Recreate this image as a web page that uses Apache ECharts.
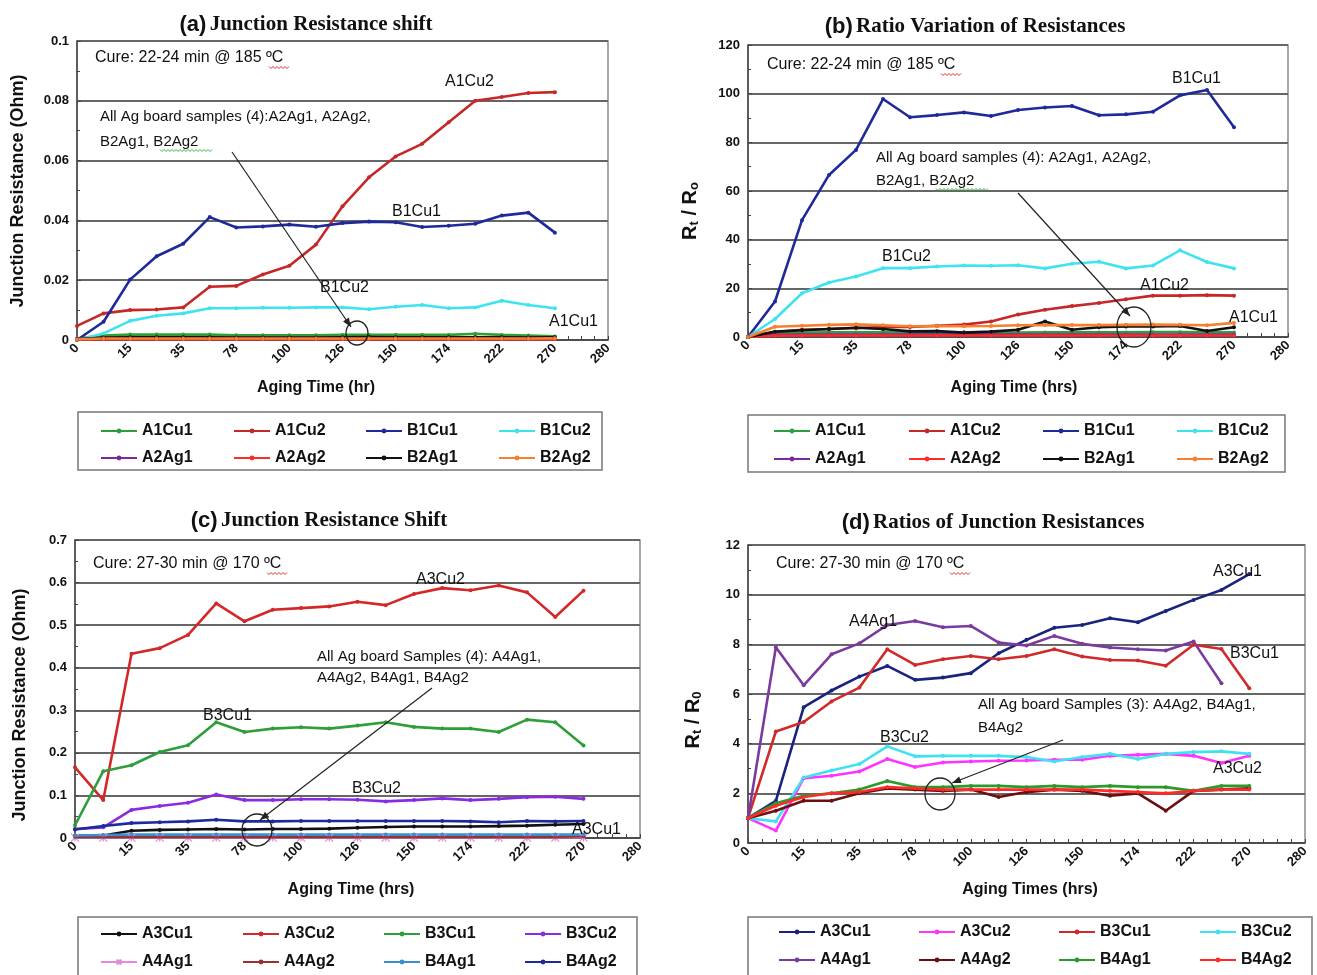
<!DOCTYPE html>
<html><head><meta charset="utf-8">
<script src="https://cdn.jsdelivr.net/npm/echarts@6/dist/echarts.min.js"></script>
<style>html,body{margin:0;padding:0;background:#fff}#c{width:1317px;height:975px}</style>
</head><body><div id="c"></div>
<script>
// ---------- DATA ----------
const categories = ["0","7","15","25","35","56","78","90","100","114","126","138","150","162","174","198","222","246","270","275","280"];
const xTickLabels = ["0","15","35","78","100","126","150","174","222","270","280"];

// (a) Junction resistance shift, Ohm
const a_A1Cu1 = [0.0005,0.0015,0.0018,0.0018,0.0018,0.0018,0.0016,0.0016,0.0016,0.0016,0.0017,0.0017,0.0017,0.0017,0.0017,0.0021,0.0017,0.0015,0.0012];
const a_A1Cu2 = [0.0047,0.0089,0.0100,0.0102,0.0109,0.0178,0.0181,0.0219,0.0248,0.0319,0.0447,0.0544,0.0614,0.0656,0.0728,0.0800,0.0813,0.0826,0.0829];
const a_B1Cu1 = [0,0.0061,0.0202,0.0280,0.0322,0.0411,0.0376,0.0380,0.0386,0.0379,0.0391,0.0396,0.0394,0.0378,0.0382,0.0389,0.0416,0.0426,0.0359];
const a_B1Cu2 = [0,0.0022,0.0064,0.0081,0.0089,0.0106,0.0106,0.0108,0.0108,0.0109,0.0109,0.0103,0.0111,0.0117,0.0106,0.0109,0.0131,0.0117,0.0106];
const a_A2Ag1 = [0.0003,0.0006,0.0007,0.0007,0.0007,0.0007,0.0007,0.0007,0.0007,0.0007,0.0007,0.0007,0.0007,0.0007,0.0007,0.0008,0.0007,0.0007,0.0006];
const a_A2Ag2 = [0.0002,0.0003,0.0003,0.0003,0.0003,0.0003,0.0003,0.0003,0.0003,0.0003,0.0003,0.0003,0.0003,0.0003,0.0003,0.0003,0.0003,0.0003,0.0003];
const a_B2Ag1 = [0.0002,0.0008,0.0009,0.0009,0.0009,0.0009,0.0008,0.0008,0.0008,0.0008,0.0009,0.0010,0.0009,0.0009,0.0009,0.0009,0.0009,0.0008,0.0009];
const a_B2Ag2 = [0.0002,0.0005,0.0005,0.0005,0.0005,0.0005,0.0005,0.0005,0.0005,0.0005,0.0005,0.0005,0.0005,0.0005,0.0005,0.0005,0.0005,0.0005,0.0006];

// (b) Ratio Rt/Ro
const b_A1Cu1 = [0,1.5,1.8,1.9,1.9,1.9,1.8,1.8,1.8,1.8,1.8,1.9,1.9,1.9,1.9,2.0,2.0,1.9,1.9];
const b_A1Cu2 = [0,2.0,3.0,3.3,3.7,4.1,4.1,4.6,5.1,6.4,9.2,11.2,12.7,14.0,15.5,17.0,17.0,17.2,17.0];
const b_B1Cu1 = [0,14.6,48.0,66.6,76.9,97.8,90.3,91.2,92.3,90.8,93.3,94.3,94.9,91.1,91.5,92.6,99.3,101.5,86.2];
const b_B1Cu2 = [0,7.4,18.0,22.4,24.9,28.3,28.3,29.0,29.4,29.3,29.5,28.2,30.1,30.9,28.2,29.4,35.6,30.8,28.2];
const b_A2Ag1 = [0,0.8,1.0,1.0,1.0,1.0,1.0,1.0,1.0,1.0,1.0,1.0,1.0,1.0,1.0,1.0,1.0,1.0,1.0];
const b_A2Ag2 = [0,0.5,0.6,0.6,0.6,0.6,0.6,0.6,0.6,0.6,0.6,0.6,0.6,0.6,0.6,0.6,0.6,0.6,0.6];
const b_B2Ag1 = [0,2.2,2.8,3.3,3.8,3.3,2.3,2.4,1.8,2.2,3.0,6.4,3.0,4.0,4.3,4.3,4.5,2.5,4.0];
const b_B2Ag2 = [0,4.2,4.6,5.0,5.2,4.8,4.4,4.5,4.4,4.5,4.8,4.9,4.9,4.9,5.0,5.1,5.0,4.8,5.8];

// (c) Junction resistance shift, Ohm
const c_A3Cu1 = [0.005,0.006,0.017,0.019,0.020,0.021,0.020,0.021,0.021,0.022,0.024,0.026,0.027,0.027,0.027,0.028,0.029,0.031,0.033];
const c_A3Cu2 = [0.166,0.089,0.433,0.446,0.477,0.551,0.509,0.536,0.540,0.544,0.555,0.547,0.573,0.587,0.582,0.593,0.577,0.519,0.581];
const c_B3Cu1 = [0.030,0.157,0.171,0.202,0.218,0.272,0.249,0.257,0.260,0.257,0.264,0.272,0.261,0.257,0.257,0.249,0.278,0.272,0.217];
const c_B3Cu2 = [0.021,0.025,0.066,0.075,0.083,0.102,0.089,0.089,0.091,0.091,0.090,0.086,0.089,0.093,0.089,0.092,0.096,0.097,0.092];
const c_A4Ag1 = [0.001,0.001,0.001,0.001,0.001,0.001,0.001,0.001,0.001,0.001,0.001,0.001,0.001,0.001,0.001,0.001,0.001,0.001,0.001];
const c_A4Ag2 = [0.003,0.003,0.003,0.003,0.003,0.003,0.003,0.003,0.003,0.003,0.003,0.003,0.003,0.003,0.003,0.003,0.003,0.003,0.004];
const c_B4Ag1 = [0.006,0.007,0.008,0.008,0.008,0.008,0.008,0.008,0.008,0.008,0.008,0.008,0.008,0.008,0.008,0.008,0.008,0.008,0.008];
const c_B4Ag2 = [0.020,0.028,0.035,0.037,0.039,0.043,0.039,0.039,0.040,0.040,0.040,0.040,0.040,0.040,0.039,0.037,0.040,0.039,0.040];

// (d) Ratio Rt/R0
const d_A3Cu1 = [1.0,1.7,5.47,6.14,6.70,7.13,6.57,6.66,6.84,7.64,8.18,8.67,8.78,9.05,8.89,9.34,9.79,10.19,10.83];
const d_A3Cu2 = [1.0,0.5,2.61,2.71,2.88,3.38,3.06,3.24,3.28,3.31,3.32,3.35,3.35,3.51,3.55,3.59,3.51,3.22,3.51];
const d_B3Cu1 = [1.0,4.49,4.87,5.70,6.26,7.80,7.17,7.40,7.53,7.40,7.53,7.80,7.51,7.37,7.35,7.14,7.98,7.81,6.23];
const d_B3Cu2 = [1.0,0.87,2.64,2.92,3.18,3.89,3.49,3.51,3.51,3.51,3.46,3.28,3.46,3.59,3.38,3.59,3.66,3.69,3.59];
const d_A4Ag1 = [1.0,7.88,6.35,7.60,8.04,8.78,8.94,8.69,8.74,8.07,7.95,8.34,8.02,7.87,7.80,7.75,8.11,6.43];
const d_A4Ag2 = [1.0,1.3,1.7,1.7,2.0,2.2,2.15,2.1,2.15,1.85,2.05,2.15,2.1,1.9,2.0,1.3,2.1,2.15,2.2];
const d_B4Ag1 = [1.0,1.6,1.9,2.0,2.15,2.5,2.25,2.25,2.3,2.3,2.25,2.3,2.25,2.3,2.25,2.25,2.1,2.3,2.3];
const d_B4Ag2 = [1.0,1.5,1.85,2.0,2.05,2.25,2.2,2.15,2.15,2.15,2.15,2.15,2.15,2.1,2.05,2.0,2.1,2.15,2.15];

const namesAB = ["A1Cu1","A1Cu2","B1Cu1","B1Cu2","A2Ag1","A2Ag2","B2Ag1","B2Ag2"];
const namesCD = ["A3Cu1","A3Cu2","B3Cu1","B3Cu2","A4Ag1","A4Ag2","B4Ag1","B4Ag2"];
const yMax = [0.1,120,0.7,12];
const yInterval = [0.02,20,0.1,2];

// ---------- STYLE / LAYOUT ----------
const colorsAB = ['#2e9e3a','#c62828','#1f2a9a','#3fe3f0','#7b2a9a','#ff2a2a','#111111','#f58030'];
const colorsC  = ['#111111','#d42828','#2e9e3a','#8a2be2','#e58ad8','#9a3030','#3a8fd0','#1f2a9a'];
const colorsD  = ['#1a237e','#ff33ff','#d02a2a','#3fe3f0','#7b3aa0','#6a1010','#2a9a2a','#ff2a2a'];
const panels = [
  {key:'a', grid:{left:77, top:41, width:531, height:299}, names:namesAB, colors:colorsAB,
   data:[a_A1Cu1,a_A1Cu2,a_B1Cu1,a_B1Cu2,a_A2Ag1,a_A2Ag2,a_B2Ag1,a_B2Ag2],
   legendLeft:[100,233,365,498], legendTop:423, legendGap:11, box:[78,412,524,58]},
  {key:'b', grid:{left:748, top:45, width:540, height:292}, names:namesAB, colors:colorsAB,
   data:[b_A1Cu1,b_A1Cu2,b_B1Cu1,b_B1Cu2,b_A2Ag1,b_A2Ag2,b_B2Ag1,b_B2Ag2],
   legendLeft:[773,908,1042,1176], legendTop:423, legendGap:12, box:[748,415,537,57]},
  {key:'c', grid:{left:75, top:540, width:565, height:298}, names:namesCD, colors:colorsC,
   data:[c_A3Cu1,c_A3Cu2,c_B3Cu1,c_B3Cu2,c_A4Ag1,c_A4Ag2,c_B4Ag1,c_B4Ag2],
   legendLeft:[100,242,383,524], legendTop:926, legendGap:12, box:[78,917,559,62]},
  {key:'d', grid:{left:748, top:545, width:557, height:298}, names:namesCD, colors:colorsD,
   data:[d_A3Cu1,d_A3Cu2,d_B3Cu1,d_B3Cu2,d_A4Ag1,d_A4Ag2,d_B4Ag1,d_B4Ag2],
   legendLeft:[778,918,1058,1199], legendTop:924, legendGap:12, box:[748,917,564,62]}
];

const FONT = 'Arial, "Liberation Sans", sans-serif';
const SERIF = '"Times New Roman", "Liberation Serif", serif';

const grids = [], xAxes = [], yAxes = [], series = [], legends = [];
panels.forEach((p, gi) => {
  grids.push(Object.assign({show:true, borderColor:'#8a8a8a', borderWidth:1.5, backgroundColor:'#fff'}, p.grid));
  xAxes.push({
    type:'category', gridIndex:gi, data:categories, boundaryGap:false,
    axisLine:{lineStyle:{color:'#444', width:1.5}},
    axisTick:{show:false},
    axisLabel:{interval:1, rotate:45, fontFamily:FONT, fontWeight:'bold', fontSize:13, color:'#111', margin:6,
      formatter:(v, i) => xTickLabels[i/2] !== undefined ? xTickLabels[i/2] : ''},
    splitLine:{show:false}
  });
  // half-category tick marks
  xAxes.push({
    type:'value', gridIndex:gi, min:0, max:(categories.length-1)*2, interval:1, position:'bottom',
    axisLine:{show:false}, axisLabel:{show:false}, splitLine:{show:false},
    axisTick:{show:true, inside:true, length:4, lineStyle:{color:'#444', width:1}}
  });
  yAxes.push({
    type:'value', gridIndex:gi, min:0, max:yMax[gi], interval:yInterval[gi],
    axisLine:{show:true, lineStyle:{color:'#444', width:1.5}},
    axisTick:{show:true, inside:true, length:4, lineStyle:{color:'#444'}},
    minorTick:{show:true, splitNumber:2, length:3, lineStyle:{color:'#444'}},
    axisLabel:{fontFamily:FONT, fontWeight:'bold', fontSize:13, color:'#111', margin:8},
    splitLine:{show:true, lineStyle:{color:'#666666', width:2}}
  });
  p.names.forEach((n, si) => {
    const col = p.colors[si];
    const s = {
      type:'line', name:p.key+':'+n, xAxisIndex:gi*2, yAxisIndex:gi, data:p.data[si],
      symbol:'circle', symbolSize:4, showSymbol:true,
      lineStyle:{color:col, width:2.6}, itemStyle:{color:col},
      emphasis:{disabled:true}, animation:false
    };
    if (p.key==='c' && n==='A4Ag1') {
      s.symbol = 'path://M0,0L10,10M10,0L0,10M5,0L5,10';
      s.symbolSize = 8;
      s.itemStyle = {color:col, borderColor:col, borderWidth:1.2};
      s.lineStyle.width = 2;
    }
    series.push(s);
  });
  for (let c = 0; c < 4; c++) {
    legends.push({
      orient:'vertical', left:p.legendLeft[c], top:p.legendTop, padding:0, itemGap:p.legendGap,
      itemWidth:36, itemHeight:6, selectedMode:false,
      data:[p.key+':'+p.names[c], p.key+':'+p.names[c+4]],
      formatter:(n)=>n.split(':')[1],
      textStyle:{fontFamily:FONT, fontWeight:'bold', fontSize:16, color:'#111'}
    });
  }
});

// ---------- ANNOTATIONS ----------
const graphics = [];
function txt(x, y, text, size, opt) {
  graphics.push({type:'text', x, y, z:50, silent:true, style:Object.assign({
    text, fill:'#111', fontFamily:FONT, fontSize:size, align:'left', verticalAlign:'middle'}, opt||{})});
}
function arrow(x1, y1, x2, y2) {
  graphics.push({type:'line', z:50, silent:true, shape:{x1, y1, x2, y2}, style:{stroke:'#222', lineWidth:1.2}});
  const ang = Math.atan2(y2-y1, x2-x1), L = 9, W = 3.5;
  const bx = x2 - L*Math.cos(ang), by = y2 - L*Math.sin(ang);
  graphics.push({type:'polygon', z:50, silent:true, shape:{points:[[x2,y2],[bx - W*Math.sin(ang), by + W*Math.cos(ang)],[bx + W*Math.sin(ang), by - W*Math.cos(ang)]]}, style:{fill:'#222'}});
}
function ell(cx, cy, rx, ry) {
  graphics.push({type:'ellipse', z:50, silent:true, shape:{cx, cy, rx, ry}, style:{fill:'none', stroke:'#222', lineWidth:1.3}});
}
function squiggle(x, y, w, color) {
  const pts = []; for (let i = 0; i <= w; i += 2) pts.push([x+i, y + ((i/2)%2 ? 1.5 : -0.5)]);
  graphics.push({type:'polyline', z:50, silent:true, shape:{points:pts}, style:{stroke:color||'#e03030', lineWidth:1, fill:'none'}});
}
function title(cx, y, p, t) {
  graphics.push({type:'text', x:cx, y, z:50, silent:true, style:{
    text:'{p|'+p+'} {t|'+t+'}', align:'center', verticalAlign:'middle',
    rich:{p:{fontFamily:FONT, fontWeight:'bold', fontSize:22, fill:'#111'},
          t:{fontFamily:SERIF, fontWeight:'bold', fontSize:21, fill:'#111'}}}});
}
function yname(cx, cy, text, rich) {
  graphics.push({type:'text', x:cx, y:cy, rotation:Math.PI/2, z:50, silent:true, style:Object.assign({
    text, fill:'#111', fontFamily:FONT, fontWeight:'bold', fontSize:18, align:'center', verticalAlign:'middle'},
    rich ? {rich} : {})});
}
function xname(cx, cy, text) {
  txt(cx, cy, text, 16, {fontWeight:'bold', align:'center'});
}
const ratioRich = {r:{fontFamily:FONT, fontWeight:'bold', fontSize:20, fill:'#111', lineHeight:22},
                   s:{fontFamily:FONT, fontWeight:'bold', fontSize:13, fill:'#111', lineHeight:13, verticalAlign:'bottom'}};

title(306, 25, '(a)', 'Junction Resistance shift');
title(975, 27, '(b)', 'Ratio Variation of Resistances');
title(319, 521, '(c)', 'Junction Resistance Shift');
title(993, 523, '(d)', 'Ratios of Junction Resistances');

yname(18, 191, 'Junction Resistance (Ohm)');
yname(690, 211, '{r|R}{s|t}{r| / R}{s|o}', ratioRich);
yname(20, 705, 'Junction Resistance (Ohm)');
yname(693, 720, '{r|R}{s|t}{r| / R}{s|0}', ratioRich);
xname(316, 388, 'Aging Time (hr)');
xname(1014, 388, 'Aging Time (hrs)');
xname(351, 890, 'Aging Time (hrs)');
xname(1030, 890, 'Aging Times (hrs)');

// (a)
txt(95, 58, 'Cure: 22-24 min @ 185 ºC', 16); squiggle(269, 67, 20);
txt(100, 117, 'All Ag board samples (4):A2Ag1, A2Ag2,', 15);
txt(100, 142, 'B2Ag1, B2Ag2', 15); squiggle(160, 150, 52, '#3cb043');
arrow(232, 152, 351, 327); ell(357, 333, 11, 12);
txt(445, 82, 'A1Cu2', 16); txt(392, 212, 'B1Cu1', 16); txt(320, 288, 'B1Cu2', 16); txt(549, 322, 'A1Cu1', 16);
// (b)
txt(767, 65, 'Cure: 22-24 min @ 185 ºC', 16); squiggle(941, 74, 20);
txt(876, 158, 'All Ag board samples (4): A2Ag1, A2Ag2,', 15);
txt(876, 181, 'B2Ag1, B2Ag2', 15); squiggle(936, 189, 52, '#3cb043');
arrow(1018, 193, 1130, 316); ell(1134, 327, 17, 20);
txt(1172, 79, 'B1Cu1', 16); txt(882, 257, 'B1Cu2', 16); txt(1140, 286, 'A1Cu2', 16); txt(1229, 318, 'A1Cu1', 16);
// (c)
txt(93, 564, 'Cure: 27-30 min @ 170 ºC', 16); squiggle(267, 573, 20);
txt(317, 657, 'All Ag board Samples (4): A4Ag1,', 15);
txt(317, 678, 'A4Ag2, B4Ag1, B4Ag2', 15);
arrow(432, 688, 260, 820); ell(257, 830, 15, 16);
txt(416, 580, 'A3Cu2', 16); txt(203, 716, 'B3Cu1', 16); txt(352, 789, 'B3Cu2', 16); txt(572, 830, 'A3Cu1', 16);
// (d)
txt(776, 564, 'Cure: 27-30 min @ 170 ºC', 16); squiggle(950, 573, 20);
txt(978, 705, 'All Ag board Samples (3): A4Ag2, B4Ag1,', 15);
txt(978, 728, 'B4Ag2', 15);
arrow(1063, 740, 952, 783); ell(940, 794, 15, 16);
txt(1213, 572, 'A3Cu1', 16); txt(849, 622, 'A4Ag1', 16); txt(1230, 654, 'B3Cu1', 16); txt(880, 738, 'B3Cu2', 16); txt(1213, 769, 'A3Cu2', 16);

// legend boxes
panels.forEach(p => {
  graphics.push({type:'rect', z:0, silent:true, shape:{x:p.box[0], y:p.box[1], width:p.box[2], height:p.box[3]},
    style:{fill:'none', stroke:'#777', lineWidth:1.5}});
});

const chart = echarts.init(document.getElementById('c'), null, {renderer:'canvas'});
chart.setOption({
  backgroundColor:'#ffffff', animation:false,
  grid:grids, xAxis:xAxes, yAxis:yAxes, series, legend:legends, graphic:graphics
});
</script></body></html>
